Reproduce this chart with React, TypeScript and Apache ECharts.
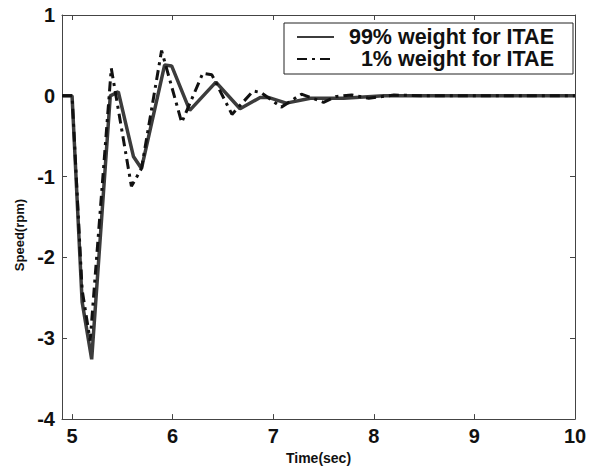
import React, { useEffect, useRef } from "react";
import * as echarts from "echarts";

const seriesNames = ["99% weight for ITAE", "1% weight for ITAE"];

const time99 = [4.9, 5.0, 5.1, 5.195, 5.38, 5.46, 5.61, 5.69, 5.92, 5.99, 6.17, 6.43, 6.67, 6.87, 6.95, 7.13, 7.37, 7.7, 8.1, 10];
const speed99 = [0, 0, -2.55, -3.26, 0.0, 0.05, -0.75, -0.9, 0.38, 0.37, -0.18, 0.17, -0.16, -0.02, -0.02, -0.09, -0.03, -0.03, 0, 0];

const time1 = [4.9, 5.0, 5.1, 5.18, 5.39, 5.59, 5.69, 5.89, 6.09, 6.3, 6.39, 6.59, 6.8, 6.88, 7.08, 7.28, 7.5, 7.62, 7.78, 7.95, 8.2, 8.5, 10];
const speed1 = [0, 0, -2.4, -3.03, 0.34, -1.12, -0.9, 0.56, -0.33, 0.28, 0.26, -0.23, 0.06, 0.04, -0.14, 0.02, -0.08, -0.01, 0.01, -0.03, 0.01, 0, 0];

const xTicks = [5, 6, 7, 8, 9, 10];
const yTicks = [1, 0, -1, -2, -3, -4];

const FONT = '"Liberation Sans", Arial, sans-serif';

export default function App() {
  const ref = useRef<HTMLDivElement>(null);
  useEffect(() => {
    if (!ref.current) return;
    const chart = echarts.init(ref.current, null, { renderer: "svg" });
    const pairs = (t: number[], v: number[]) => t.map((x, i) => [x, v[i]]);
    const axisLine = { show: true, onZero: false, lineStyle: { color: "#444", width: 1 } };
    const tickInside = (vals: number[]) => ({
      show: true,
      inside: true,
      length: 5,
      customValues: vals,
      lineStyle: { color: "#444", width: 1 },
    });
    chart.setOption({
      animation: false,
      backgroundColor: "#ffffff",
      grid: { left: 62, right: 17, top: 15, bottom: 47, containLabel: false },
      legend: {
        left: 284,
        top: 23,
        orient: "vertical",
        data: seriesNames,
        itemWidth: 37,
        itemHeight: 14,
        itemGap: 0,
        padding: [3, 19, 4, 12],
        borderColor: "#222",
        borderWidth: 1,
        backgroundColor: "#fff",
        itemStyle: { opacity: 0 },
        formatter: (name: string) => `{r|${name}}`,
        textStyle: {
          rich: {
            r: {
              width: 215,
              align: "right",
              fontFamily: FONT,
              fontWeight: "bold",
              fontSize: 21.5,
              lineHeight: 24,
              color: "#111",
            },
          },
        },
      },
      xAxis: [
        {
          type: "value",
          min: 4.9,
          max: 10,
          position: "bottom",
          name: "Time(sec)",
          nameLocation: "middle",
          nameGap: 19,
          nameTextStyle: { fontFamily: FONT, fontWeight: "bold", fontSize: 14, color: "#111" },
          axisLine,
          axisTick: tickInside(xTicks),
          axisLabel: {
            customValues: xTicks,
            margin: 7,
            fontFamily: FONT,
            fontWeight: "bold",
            fontSize: 20,
            color: "#111",
          },
          splitLine: { show: false },
        },
        {
          type: "value",
          min: 4.9,
          max: 10,
          position: "top",
          axisLine,
          axisTick: tickInside(xTicks),
          axisLabel: { show: false },
          splitLine: { show: false },
        },
      ],
      yAxis: [
        {
          type: "value",
          min: -4,
          max: 1,
          interval: 1,
          position: "left",
          name: "Speed(rpm)",
          nameLocation: "middle",
          nameGap: 35,
          nameTextStyle: {
            fontFamily: FONT,
            fontWeight: "bold",
            fontSize: 13,
            color: "#111",
            padding: [0, 36, 0, 0],
          },
          axisLine,
          axisTick: tickInside(yTicks),
          axisLabel: {
            customValues: yTicks,
            margin: 7,
            fontFamily: FONT,
            fontWeight: "bold",
            fontSize: 20,
            color: "#111",
          },
          splitLine: { show: false },
        },
        {
          type: "value",
          min: -4,
          max: 1,
          interval: 1,
          position: "right",
          axisLine,
          axisTick: tickInside(yTicks),
          axisLabel: { show: false },
          splitLine: { show: false },
        },
      ],
      series: [
        {
          name: seriesNames[0],
          type: "line",
          xAxisIndex: 0,
          yAxisIndex: 0,
          data: pairs(time99, speed99),
          symbol: "none",
          lineStyle: { color: "#3c3c3c", width: 3.5, type: "solid" },
          itemStyle: { color: "#3c3c3c" },
          z: 2,
        },
        {
          name: seriesNames[1],
          type: "line",
          xAxisIndex: 0,
          yAxisIndex: 0,
          data: pairs(time1, speed1),
          symbol: "none",
          lineStyle: { color: "#111", width: 3, type: [10, 5, 3, 5] },
          itemStyle: { color: "#111" },
          z: 3,
        },
      ],
    });
    return () => chart.dispose();
  }, []);
  return (
    <div
      ref={ref}
      style={{ position: "fixed", left: 0, top: 0, width: 592, height: 470, background: "#fff" }}
    />
  );
}
